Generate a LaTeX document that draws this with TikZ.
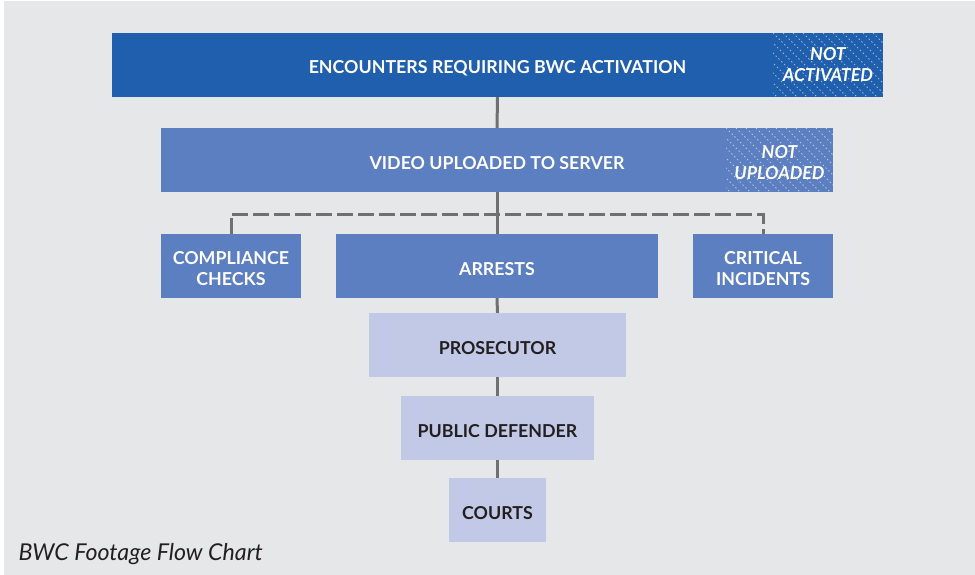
\documentclass[tikz,border=0pt]{standalone}
\usepackage{fontspec}
\setmainfont{Lato}
\usepackage{tikz}
\usetikzlibrary{calc,positioning}
\definecolor{my_back}{RGB}{230, 231, 233}
\definecolor{my_dark}{RGB}{31, 95, 173}
\definecolor{my_mid}{RGB}{91, 127, 192}
\definecolor{my_light}{RGB}{194, 201, 230}
\definecolor{my_line}{RGB}{112, 112, 112}
\definecolor{my_text}{RGB}{35, 31, 32}
\tikzset{
  flownode/.style = {align=center, inner sep=0pt, rectangle, draw=none, text centered,
  font=\fontsize{17.8}{21}\selectfont\bfseries, minimum height=64pt,
  execute at begin node={\rule{0pt}{19pt}}},
  box_d/.style = {flownode, fill=my_dark, text=white},
  box_m/.style = {flownode, fill=my_mid, text=white},
  box_l/.style = {flownode, fill=my_light, text=my_text},
  pair/.style = {execute at begin node={}, text height=38.8pt, text depth=0pt},
  hatch/.style = {flownode, font=\fontsize{17.8}{21}\selectfont\bfseries\itshape, text=white,
  path picture={
    \foreach \i in {-70,-60,...,120}
      \draw[white, opacity=0.55, line width=0.9pt, dash pattern=on 1.4pt off 2.6pt]
        ($(path picture bounding box.north west)+(\i,0)$) -- ++(70,70);
  }}
}
\begin{document}
\begin{tikzpicture}[x=1pt, y=-1pt,
        link/.style={draw=my_line, line width=3pt},
        split/.style={draw=my_line, line width=3pt, dash pattern=on 16pt off 5pt}]
        \fill[white] (0,0) rectangle (975,575);
        \fill[my_back] (4,1) rectangle (975,575);
        \useasboundingbox (0,0) rectangle (975,575);
        \node [box_d, minimum width=771pt] (enc) at (497.5,65) {ENCOUNTERS REQUIRING BWC ACTIVATION};
        \node [hatch, minimum width=110pt, execute at begin node={}] (notact) at (828,65) {NOT\\ACTIVATED};
        \node [box_m, minimum width=672pt] (upl) at (497,160) {VIDEO UPLOADED TO SERVER};
        \node [hatch, pair, minimum width=107pt] (notupl) at (779.5,160) {NOT\\UPLOADED};
        \node [box_m, pair, minimum width=140pt] (comp) at (231,266) {COMPLIANCE\\CHECKS};
        \node [box_m, minimum width=322pt] (arr) at (497,266) {ARRESTS};
        \node [box_m, pair, minimum width=140pt] (crit) at (763,266) {CRITICAL\\INCIDENTS};
        \node [box_l, minimum width=257pt] (pros) at (497.5,345) {PROSECUTOR};
        \node [box_l, minimum width=193pt] (pd) at (497.5,428) {PUBLIC DEFENDER};
        \node [box_l, minimum width=97pt] (court) at (497.5,510) {COURTS};
        \coordinate (fork) at (497,214);
        \draw [split] (comp.north) |- (fork) -| (crit.north);
        \draw [link] (enc.south) -- (upl.north);
        \draw [link] (upl.south) -- (arr.north);
        \draw [link] (arr.south) -- (pros.north);
        \draw [link] (pros.south) -- (pd.north);
        \draw [link] (pd.south) -- (court.north);
        \node [anchor=base west, text=my_text, font=\fontsize{23.2}{26}\selectfont\itshape] (cap) at (15,560) {BWC Footage Flow Chart};
\end{tikzpicture}
\end{document}
